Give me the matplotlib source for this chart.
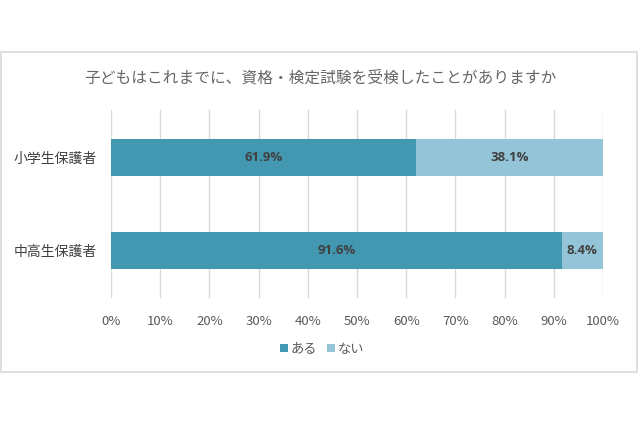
import matplotlib
matplotlib.use("Agg")
import matplotlib.pyplot as plt
from matplotlib.patches import Rectangle

plt.rcParams['font.family'] = ['Noto Sans CJK JP', 'DejaVu Sans']

title = "子どもはこれまでに、資格・検定試験を受検したことがありますか"
categories = ["小学生保護者", "中高生保護者"]
series_names = ["ある", "ない"]
aru = [61.9, 91.6]
nai = [38.1, 8.4]
xticks = [0, 10, 20, 30, 40, 50, 60, 70, 80, 90, 100]
colors = ["#4298B0", "#94C4D7"]

fig = plt.figure(figsize=(6.4, 4.26), dpi=100)
# chart frame
fig.patches.append(Rectangle((1/640, 1 - 372/426), 636/640, 320/426,
                             transform=fig.transFigure, fill=False,
                             edgecolor="#D9D9D9", linewidth=1.2))
ax = fig.add_axes([111/640, 1 - 298/426, 492/640, 188/426])

y = list(range(len(categories)))
b1 = ax.barh(y, aru, height=0.4, color=colors[0], label=series_names[0], zorder=3)
b2 = ax.barh(y, nai, left=aru, height=0.4, color=colors[1], label=series_names[1], zorder=3)

for i in y:
    ax.text(aru[i] / 2, i, f"{aru[i]:.1f}%", ha="center", va="center",
            fontsize=9.5, fontweight="bold", color="#404040", family=['Open Sans', 'DejaVu Sans'], zorder=4)
    ax.text(aru[i] + nai[i] / 2, i, f"{nai[i]:.1f}%", ha="center", va="center",
            fontsize=9.5, fontweight="bold", color="#404040", family=['Open Sans', 'DejaVu Sans'], zorder=4)

ax.set_xlim(0, 100)
ax.set_ylim(1.51, -0.51)
ax.set_xticks(xticks)
ax.set_xticklabels([f"{t}%" for t in xticks], fontsize=9.5, color="#595959")
ax.set_yticks(y)
ax.set_yticklabels(categories, fontsize=10, color="#404040")
ax.tick_params(axis="both", length=0)
ax.tick_params(axis="x", pad=12)
ax.tick_params(axis="y", pad=10)
ax.grid(axis="x", color="#D9D9D9", linewidth=1, zorder=0)
for s in ax.spines.values():
    s.set_visible(False)

fig.text(0.5, 1 - 78/426, title, ha="center", va="center", fontsize=11.3, color="#666666")

fig.legend(handles=[b1, b2], labels=series_names, loc="center",
           bbox_to_anchor=(322/640, 1 - 349/426), ncol=2, frameon=False,
           fontsize=9.5, handlelength=0.6, handleheight=0.6, handletextpad=0.2,
           columnspacing=0.8, labelcolor="#595959")

fig.savefig("out.png", dpi=100, facecolor="white")
